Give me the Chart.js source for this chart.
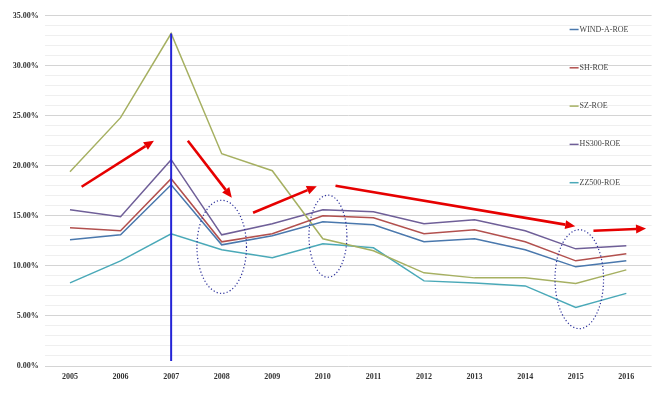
<!DOCTYPE html>
<html>
<head>
<meta charset="utf-8">
<script src="https://cdn.jsdelivr.net/npm/chart.js@4.4.1/dist/chart.umd.min.js"></script>
<style>
    html, body { margin: 0; padding: 0; background: #fff; }
    #wrap { width: 663px; height: 397px; position: relative; }
</style>
</head>
<body>
<div id="wrap"><canvas id="roe-chart"></canvas></div>
<script>
// Dữ liệu ROE (%)
const years = ['2005', '2006', '2007', '2008', '2009', '2010', '2011', '2012', '2013', '2014', '2015', '2016'];
const windA = [12.6, 13.1, 18.1, 12.1, 13.0, 14.4, 14.1, 12.4, 12.7, 11.6, 9.9, 10.5];
const sh = [13.8, 13.5, 18.7, 12.4, 13.2, 15.0, 14.8, 13.2, 13.6, 12.4, 10.5, 11.2];
const sz = [19.4, 24.8, 33.2, 21.2, 19.5, 12.7, 11.5, 9.3, 8.8, 8.8, 8.25, 9.6];
const hs300 = [15.6, 14.9, 20.6, 13.1, 14.2, 15.6, 15.4, 14.2, 14.6, 13.5, 11.7, 12.0];
const zz500 = [8.3, 10.5, 13.2, 11.6, 10.8, 12.2, 11.8, 8.5, 8.3, 8.0, 5.85, 7.25];
const yMin = 0;
const yMax = 35;

// Chú thích vẽ thêm (toạ độ theo trục: chỉ số năm, giá trị %)
const markerLine = [2, 0.5, 33.2];
const arrows = [
    [0.23, 17.9, 1.66, 22.5],
    [2.33, 22.5, 3.2, 16.8],
    [3.62, 15.3, 4.88, 17.95],
    [5.25, 18.0, 9.99, 13.95],
    [10.35, 13.5, 11.39, 13.73]
];
const ellipses = [
    [3.0, 11.9, 0.49, 4.65],
    [5.1, 12.96, 0.375, 4.1],
    [10.07, 8.67, 0.48, 4.94]
];

const serif = "'Liberation Serif', 'DejaVu Serif', serif";

const annotationPlugin = {
    id: 'annotations',
    afterDatasetsDraw(chart) {
        const ctx = chart.ctx;
        const x = chart.scales.x;
        const y = chart.scales.y;
        ctx.save();

        // đường thẳng đứng năm 2007
        ctx.strokeStyle = '#2424d6';
        ctx.lineWidth = 2;
        ctx.beginPath();
        ctx.moveTo(x.getPixelForValue(markerLine[0]), y.getPixelForValue(markerLine[1]));
        ctx.lineTo(x.getPixelForValue(markerLine[0]), y.getPixelForValue(markerLine[2]));
        ctx.stroke();

        // elip chấm
        ctx.strokeStyle = '#2b2f9a';
        ctx.lineWidth = 1.2;
        ctx.setLineDash([1.2, 2.2]);
        ellipses.forEach(e => {
            const cx = x.getPixelForValue(e[0]);
            const cy = y.getPixelForValue(e[1]);
            const rx = Math.abs(x.getPixelForValue(e[0] + e[2]) - cx);
            const ry = Math.abs(y.getPixelForValue(e[1] + e[3]) - cy);
            ctx.beginPath();
            ctx.ellipse(cx, cy, rx, ry, 0, 0, Math.PI * 2);
            ctx.stroke();
        });
        ctx.setLineDash([]);

        // mũi tên đỏ
        ctx.strokeStyle = '#e60000';
        ctx.fillStyle = '#e60000';
        ctx.lineWidth = 2.6;
        arrows.forEach(a => {
            const x1 = x.getPixelForValue(a[0]), y1 = y.getPixelForValue(a[1]);
            const x2 = x.getPixelForValue(a[2]), y2 = y.getPixelForValue(a[3]);
            const ang = Math.atan2(y2 - y1, x2 - x1);
            const head = 10, half = 4.5;
            const bx = x2 - head * Math.cos(ang), by = y2 - head * Math.sin(ang);
            ctx.beginPath();
            ctx.moveTo(x1, y1);
            ctx.lineTo(bx, by);
            ctx.stroke();
            ctx.beginPath();
            ctx.moveTo(x2, y2);
            ctx.lineTo(bx + half * Math.sin(ang), by - half * Math.cos(ang));
            ctx.lineTo(bx - half * Math.sin(ang), by + half * Math.cos(ang));
            ctx.closePath();
            ctx.fill();
        });
        ctx.restore();
    },
    afterDraw(chart) {
        // chú giải bên phải, trong vùng biểu đồ
        const ctx = chart.ctx;
        const area = chart.chartArea;
        ctx.save();
        ctx.font = '8px ' + serif;
        ctx.textBaseline = 'middle';
        chart.data.datasets.forEach((ds, i) => {
            const ly = area.top + 14 + i * 38.3;
            const lx = area.right - 82;
            ctx.strokeStyle = ds.borderColor;
            ctx.lineWidth = 1.5;
            ctx.beginPath();
            ctx.moveTo(lx, ly);
            ctx.lineTo(lx + 9, ly);
            ctx.stroke();
            ctx.fillStyle = '#444';
            ctx.fillText(ds.label, lx + 10, ly);
        });
        ctx.restore();
    }
};

function makeSet(label, data, color) {
    return {
        label: label,
        data: data,
        borderColor: color,
        backgroundColor: color,
        borderWidth: 1.5,
        pointRadius: 0,
        tension: 0,
        fill: false
    };
}

const roeCtx = document.getElementById('roe-chart').getContext('2d');
const roeChart = new Chart(roeCtx, {
    type: 'line',
    data: {
        labels: years,
        datasets: [
            makeSet('WIND-A-ROE', windA, '#4a78ad'),
            makeSet('SH-ROE', sh, '#b2504e'),
            makeSet('SZ-ROE', sz, '#a6b062'),
            makeSet('HS300-ROE', hs300, '#6f5f98'),
            makeSet('ZZ500-ROE', zz500, '#4aa9b8')
        ]
    },
    options: {
        responsive: true,
        maintainAspectRatio: false,
        animation: false,
        layout: {
            padding: { top: 15.5, right: 11.4, left: 0, bottom: 0 }
        },
        plugins: {
            legend: { display: false },
            tooltip: { enabled: false }
        },
        scales: {
            x: {
                offset: true,
                grid: { display: false, drawTicks: false },
                border: { display: false },
                ticks: {
                    color: '#333',
                    font: { family: serif, size: 8, weight: 'bold' },
                    padding: 6,
                    maxRotation: 0
                },
                afterFit: function (scale) { scale.height = 31; }
            },
            y: {
                min: yMin,
                max: yMax,
                grid: {
                    drawTicks: false,
                    lineWidth: 1,
                    color: function (context) {
                        return context.tick.value % 5 === 0 ? '#d4d4d4' : '#efefef';
                    }
                },
                border: { display: false },
                ticks: {
                    stepSize: 1,
                    autoSkip: false,
                    color: '#333',
                    font: { family: serif, size: 8, weight: 'bold' },
                    padding: 6,
                    callback: function (value) {
                        return value % 5 === 0 ? value.toFixed(2) + '%' : '';
                    }
                },
                afterFit: function (scale) { scale.width = 44.7; }
            }
        }
    },
    plugins: [annotationPlugin]
});
</script>
</body>
</html>
